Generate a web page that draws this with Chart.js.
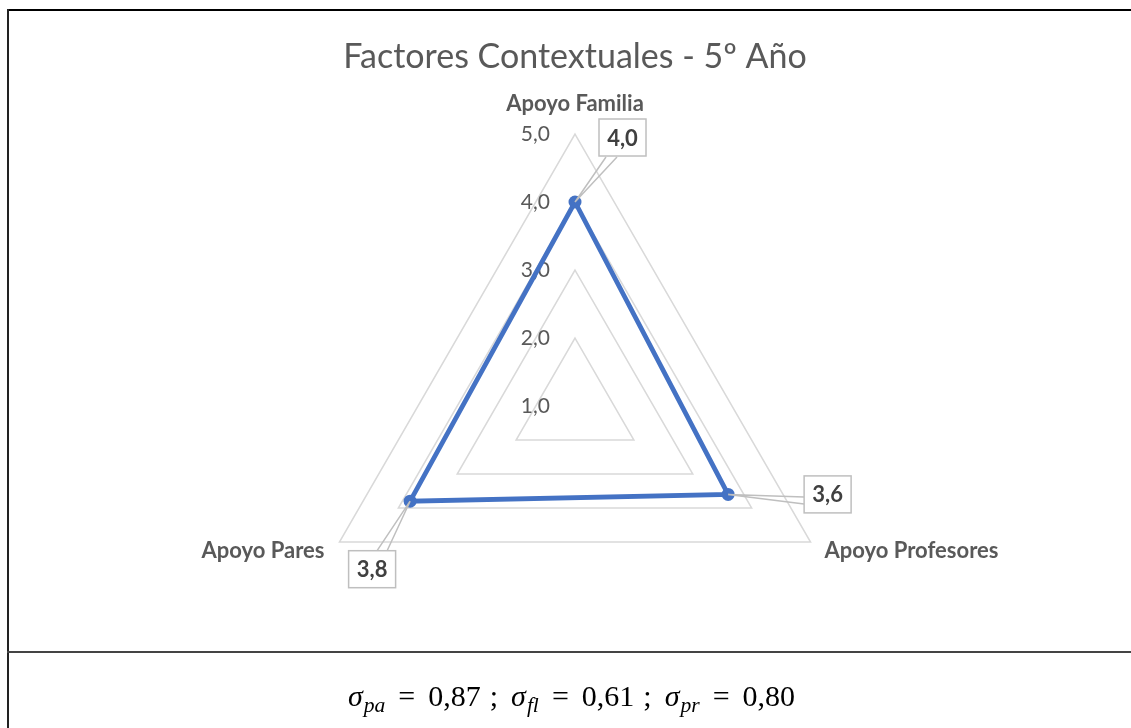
<!DOCTYPE html>
<html>
<head>
<meta charset="utf-8">
<script src="https://cdn.jsdelivr.net/npm/chart.js@4"></script>
<style>
  html, body { margin: 0; padding: 0; background: #fff; }
  #wrap { position: absolute; left: 0; top: 0; width: 1131px; height: 728px; }
  .rule { position: absolute; background: #000; }
  #formula {
    position: absolute; left: 6px; width: 1131px; top: 681px; line-height: 30px;
    text-align: center; font-family: "Liberation Serif", serif; font-size: 30px; color: #000;
    white-space: nowrap;
  }
  #formula i { font-style: italic; }
  #formula sub { font-size: 0.72em; vertical-align: -0.3em; line-height: 0; margin-left: 1px; }
  #formula .eq { margin: 0 13px; }
  #formula .sc { margin: 0 13px 0 9px; }
</style>
</head>
<body>
<div id="wrap"><canvas id="c"></canvas></div>
<div class="rule" style="left:7px;top:9px;width:1124px;height:2px;"></div>
<div class="rule" style="left:7px;top:9px;width:2px;height:719px;background:#222;"></div>
<div class="rule" style="left:7px;top:651px;width:1124px;height:2px;background:#444;"></div>
<div id="formula"><i>σ</i><sub><i>pa</i></sub><span class="eq">=</span>0,87<span class="sc">;</span><i>σ</i><sub><i>fl</i></sub><span class="eq">=</span>0,61<span class="sc">;</span><i>σ</i><sub><i>pr</i></sub><span class="eq">=</span>0,80</div>

<script>
// Factors and mean scores
const categories = ['Apoyo Familia', 'Apoyo Profesores', 'Apoyo Pares'];
const values = [4.0, 3.6, 3.8];
const valueLabels = ['4,0', '3,6', '3,8'];
// Radial scale ticks
const tickValues = [1, 2, 3, 4, 5];
const tickLabels = ['1,0', '2,0', '3,0', '4,0', '5,0'];

const GREY_TEXT = '#595959';
const FONT = 'Lato, "Open Sans", sans-serif';

// where each category label sits relative to its outer vertex
const pointLabelStyle = [
  { dx: 0, dy: -30, align: 'center' },
  { dx: 14, dy: 9, align: 'left' },
  { dx: -15, dy: 9, align: 'right' }
];
// value callouts: box offset from the point, and the two leader anchors on the box
const calloutStyle = [
  { dx: 47.5, dy: -64.5, a: [[-16.5, 19.5], [-5.5, 19.5]] },
  { dx: 99.5, dy: 0, a: [[-23.5, 2.5], [-23.5, 9.5]] },
  { dx: -38, dy: 68, a: [[5, -18.5], [15, -18.5]] }
];
const BOX_W = 47, BOX_H = 37;

const radarText = {
  id: 'radarText',
  beforeDatasetsDraw(chart) {
    const r = chart.scales.r;
    const ctx = chart.ctx;
    ctx.save();
    // tick labels, left of the vertical axis
    ctx.font = '21px ' + FONT;
    ctx.fillStyle = GREY_TEXT;
    ctx.textAlign = 'right';
    ctx.textBaseline = 'middle';
    r.ticks.forEach(t => {
      const d = r.getDistanceFromCenterForValue(t.value);
      ctx.fillText(t.label, r.xCenter - 25, r.yCenter - d);
    });
    // category labels
    ctx.font = 'bold 22px ' + FONT;
    categories.forEach((c, i) => {
      const p = r.getPointPosition(i, r.drawingArea);
      const s = pointLabelStyle[i];
      ctx.textAlign = s.align;
      ctx.fillText(c, p.x + s.dx, p.y + s.dy);
    });
    ctx.restore();
  },
  afterDatasetsDraw(chart) {
    const meta = chart.getDatasetMeta(0);
    const ctx = chart.ctx;
    ctx.save();
    meta.data.forEach((pt, i) => {
      const s = calloutStyle[i];
      const cx = pt.x + s.dx, cy = pt.y + s.dy;
      ctx.strokeStyle = '#bfbfbf';
      ctx.lineWidth = 1.5;
      ctx.beginPath();
      s.a.forEach(([ax, ay]) => { ctx.moveTo(pt.x, pt.y); ctx.lineTo(cx + ax, cy + ay); });
      ctx.stroke();
      ctx.fillStyle = '#fff';
      ctx.fillRect(cx - BOX_W / 2, cy - BOX_H / 2, BOX_W, BOX_H);
      ctx.strokeRect(cx - BOX_W / 2, cy - BOX_H / 2, BOX_W, BOX_H);
      ctx.fillStyle = '#404040';
      ctx.font = 'bold 22px ' + FONT;
      ctx.textAlign = 'center';
      ctx.textBaseline = 'middle';
      ctx.fillText(valueLabels[i], cx, cy + 1);
    });
    ctx.restore();
  }
};

new Chart(document.getElementById('c'), {
  type: 'radar',
  data: {
    labels: categories,
    datasets: [{
      data: values,
      borderColor: '#4472C4',
      borderWidth: 4.8,
      backgroundColor: '#4472C4',
      pointBackgroundColor: '#4472C4',
      pointBorderWidth: 0,
      pointRadius: 6.5,
      fill: false
    }]
  },
  options: {
    responsive: true,
    maintainAspectRatio: false,
    animation: false,
    layout: { padding: { left: 303, right: 284, top: 0, bottom: 50 } },
    plugins: {
      legend: { display: false },
      tooltip: { enabled: false },
      title: {
        display: true,
        text: 'Factores Contextuales - 5º Año',
        color: GREY_TEXT,
        font: { family: FONT, size: 34, weight: 'normal', lineHeight: 1.2 },
        padding: { top: 36.6, bottom: 56.6 }
      }
    },
    scales: {
      r: {
        min: 1,
        max: 5,
        afterBuildTicks(scale) { scale.ticks = tickValues.map(v => ({ value: v })); },
        ticks: {
          display: false,
          callback: (v) => tickLabels[tickValues.indexOf(v)]
        },
        grid: { color: '#d9d9d9', lineWidth: 1.5 },
        angleLines: { display: false },
        pointLabels: { display: false }
      }
    }
  },
  plugins: [radarText]
});
</script>
</body>
</html>
